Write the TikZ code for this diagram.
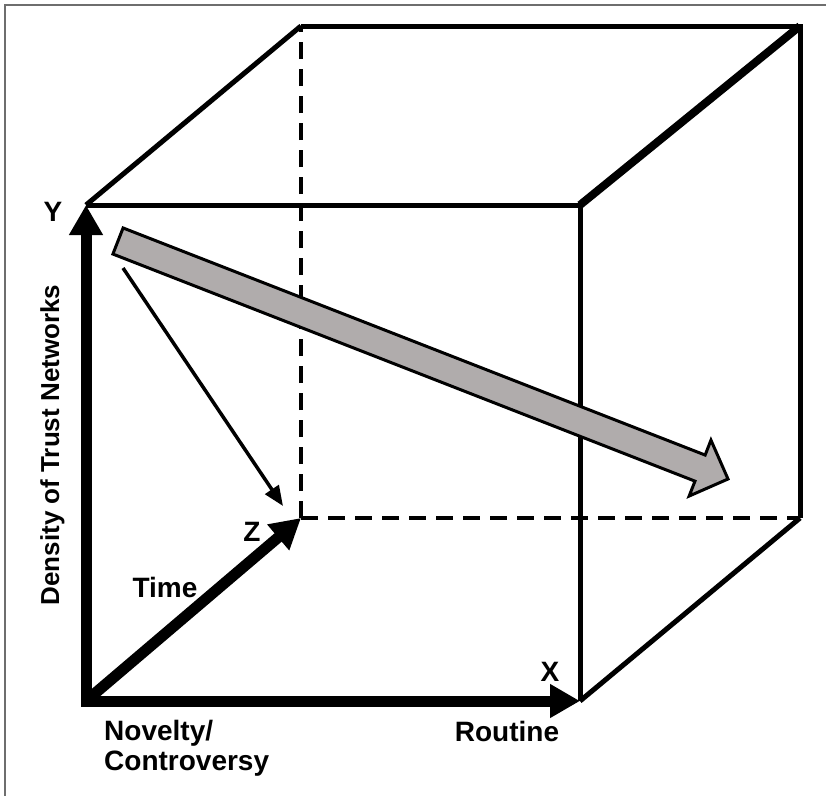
\documentclass[tikz,border=0pt]{standalone}
\usepackage{fontspec}
\setmainfont{Liberation Sans}
\usetikzlibrary{arrows.meta,calc}
\definecolor{arrowgray}{RGB}{176,172,172}
\definecolor{framegray}{RGB}{110,110,110}

\begin{document}
\begin{tikzpicture}[x=1pt, y=-1pt,
  edge/.style={line width=5pt},
  hidden/.style={line width=4pt, dash pattern=on 17pt off 10pt},
  axis/.style={line width=11pt, -{Triangle[length=30pt,width=32pt]}},
  lbl/.style={font=\fontsize{28}{30}\selectfont\bfseries, inner sep=0pt}]
\useasboundingbox (0,0) rectangle (826,795);
\draw[framegray, line width=2pt] (5,5) rectangle (850,820);
% cube corners
\coordinate (O) at (86,701);
\coordinate (FX) at (580,701);
\coordinate (FY) at (86,205);
\coordinate (FT) at (580,205);
\coordinate (BZ) at (301,518);
\coordinate (BX) at (800,518);
\coordinate (BY) at (301,26);
\coordinate (BT) at (800,26);
% hidden edges
\draw[hidden] (BZ) -- (BY);
\draw[hidden] (BZ) -- (BX);
% visible edges
\draw[edge] (FY) -- (FT) -- (FX);
\draw[edge] (BY) -- (BT) -- (BX);
\draw[edge] (FY) -- (BY);
\draw[edge] (FX) -- (BX);
\draw[line width=8pt] (FT) -- (BT);
% axes
\draw[axis, line cap=rect] (O) -- (FY);
\draw[axis, line cap=rect] (O) -- (FX);
\draw[axis] (O) -- (BZ);
% arrows inside
\coordinate (t0) at (123,268);
\coordinate (t1) at (283,506);
\draw[line width=3.5pt, -{Triangle[length=20pt,width=16pt]}] (t0) -- (t1);
\coordinate (g0) at (118,241);
\coordinate (g1) at (728,479);
\coordinate (gh) at ($(g1)!30pt!(g0)$);
\draw[line width=3pt, fill=arrowgray]
  ($(g0)!14pt!90:(g1)$) -- ($(gh)!14pt!90:(g1)$) -- ($(gh)!30pt!90:(g1)$)
  -- (g1) -- ($(gh)!30pt!-90:(g1)$) -- ($(gh)!14pt!-90:(g1)$)
  -- ($(g0)!14pt!-90:(g1)$) -- cycle;
% labels
\node[lbl] (ylab) at (53,212) {Y};
\node[lbl] (zlab) at (252,532) {Z};
\node[lbl] (xlab) at (550,672) {X};
\node[lbl] (time) at (165,587) {Time};
\node[lbl] (routine) at (507,731) {Routine};
\node[lbl, align=left, anchor=north west] (novelty) at (104,720) {Novelty/\\Controversy};
\node[lbl, font=\fontsize{26}{30}\selectfont\bfseries, rotate=90, anchor=base] (density) at (59,445) {Density of Trust Networks};
\end{tikzpicture}
\end{document}
